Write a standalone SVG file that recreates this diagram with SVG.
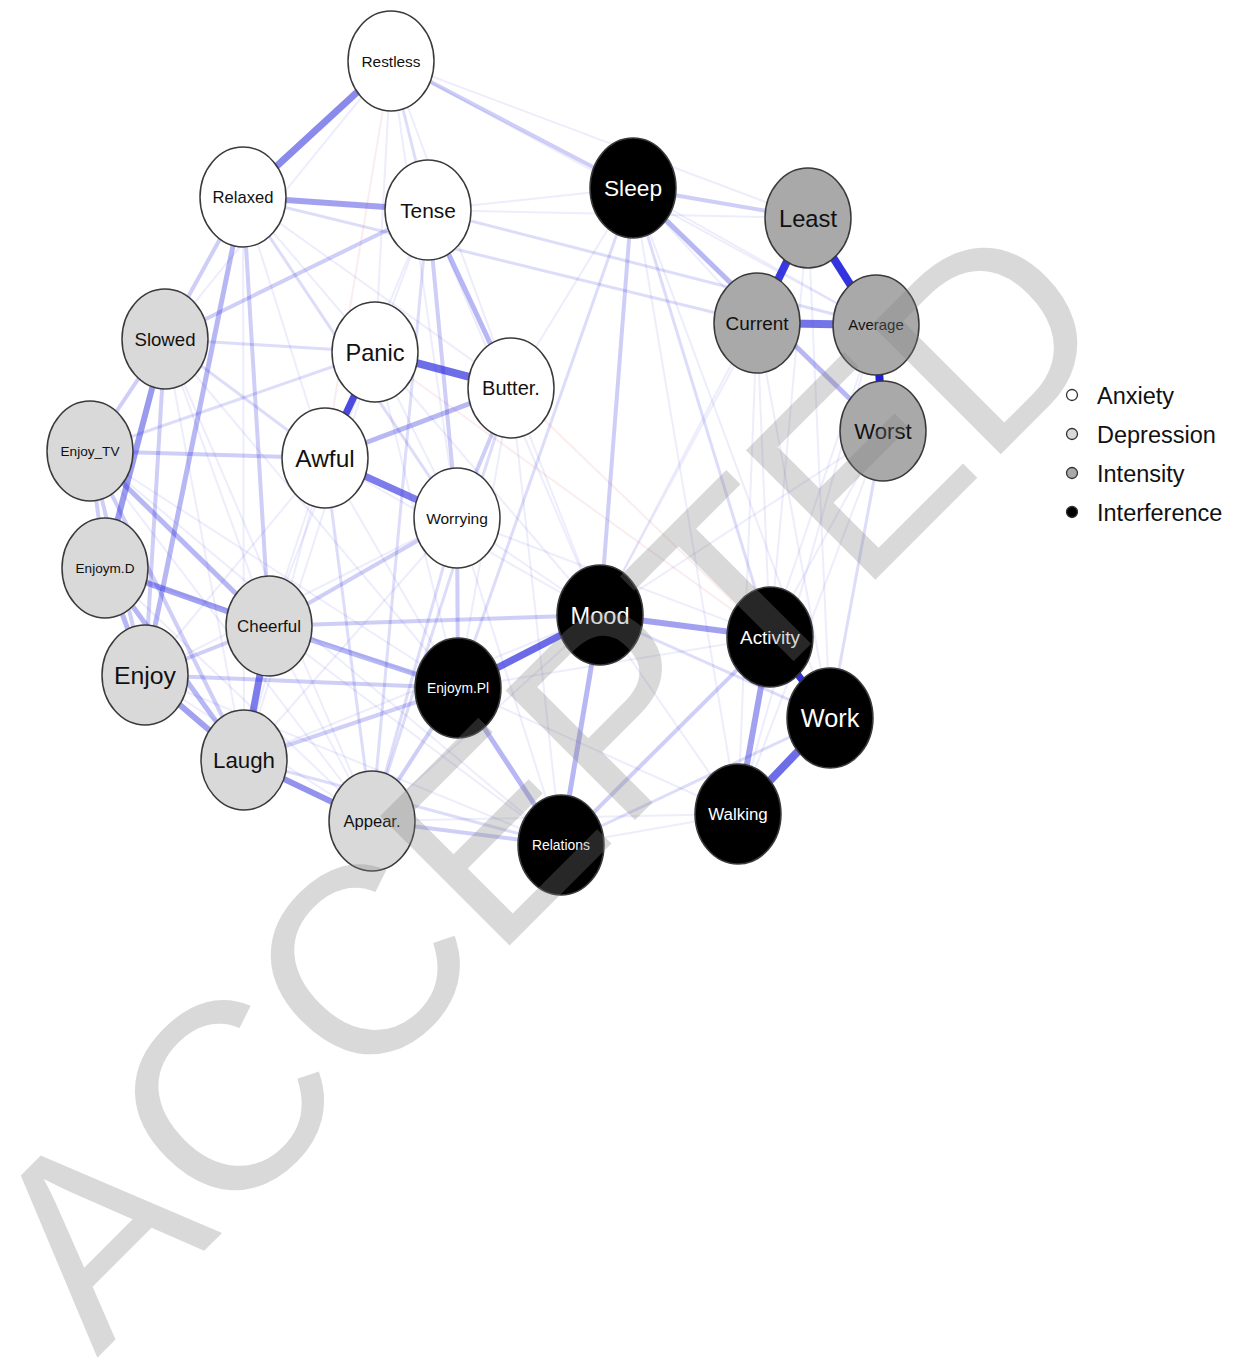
<svg xmlns="http://www.w3.org/2000/svg" width="1239" height="1362" viewBox="0 0 1239 1362">
<style>
text{font-family:"Liberation Sans",Arial,sans-serif;text-anchor:middle}
#edges line{stroke:#1e1edc;fill:none}
#edges .f1{stroke-width:2;stroke-opacity:.08}
#edges .f2{stroke-width:3;stroke-opacity:.15}
#edges .f3{stroke-width:4;stroke-opacity:.22}
#edges .f4{stroke-width:5;stroke-opacity:.32}
#edges .neg{stroke:#d84a4a;stroke-width:2;stroke-opacity:.1}
.nd ellipse{stroke:#3a3a3a;stroke-width:1.5}
.anx ellipse{fill:#ffffff}
.dep ellipse{fill:#d9d9d9}
.int ellipse{fill:#a9a9a9}
.itf ellipse{fill:#000000}
.anx text,.dep text,.int text{fill:#111}
.itf text{fill:#fff}
.leg text{text-anchor:start;font-size:23.5px;fill:#111}
.leg circle{stroke:#333;stroke-width:1.3}
</style>
<rect width="1239" height="1362" fill="#fff"/>
<g id="edges">
<g>
<line class="f1" x1="391" y1="61" x2="375" y2="352"/>
<line class="f1" x1="391" y1="61" x2="511" y2="388"/>
<line class="f1" x1="391" y1="61" x2="457" y2="518"/>
<line class="f1" x1="391" y1="61" x2="808" y2="218"/>
<line class="f1" x1="391" y1="61" x2="876" y2="325"/>
<line class="f1" x1="391" y1="61" x2="165" y2="339"/>
<line class="f1" x1="243" y1="197" x2="375" y2="352"/>
<line class="f1" x1="243" y1="197" x2="325" y2="458"/>
<line class="f1" x1="243" y1="197" x2="511" y2="388"/>
<line class="f1" x1="428" y1="210" x2="375" y2="352"/>
<line class="f1" x1="428" y1="210" x2="325" y2="458"/>
<line class="f1" x1="428" y1="210" x2="633" y2="188"/>
<line class="f1" x1="428" y1="210" x2="808" y2="218"/>
<line class="f1" x1="428" y1="210" x2="600" y2="615"/>
<line class="f1" x1="375" y1="352" x2="457" y2="518"/>
<line class="f1" x1="375" y1="352" x2="269" y2="626"/>
<line class="f1" x1="375" y1="352" x2="244" y2="760"/>
<line class="f1" x1="375" y1="352" x2="458" y2="688"/>
<line class="f1" x1="375" y1="352" x2="600" y2="615"/>
<line class="f1" x1="511" y1="388" x2="633" y2="188"/>
<line class="f1" x1="511" y1="388" x2="600" y2="615"/>
<line class="f1" x1="511" y1="388" x2="561" y2="845"/>
<line class="f1" x1="511" y1="388" x2="458" y2="688"/>
<line class="f1" x1="325" y1="458" x2="458" y2="688"/>
<line class="f1" x1="325" y1="458" x2="269" y2="626"/>
<line class="f1" x1="325" y1="458" x2="244" y2="760"/>
<line class="f1" x1="325" y1="458" x2="145" y2="675"/>
<line class="f1" x1="457" y1="518" x2="600" y2="615"/>
<line class="f1" x1="457" y1="518" x2="561" y2="845"/>
<line class="f1" x1="457" y1="518" x2="244" y2="760"/>
<line class="f1" x1="457" y1="518" x2="145" y2="675"/>
<line class="f1" x1="165" y1="339" x2="269" y2="626"/>
<line class="f1" x1="165" y1="339" x2="244" y2="760"/>
<line class="f1" x1="165" y1="339" x2="458" y2="688"/>
<line class="f1" x1="165" y1="339" x2="372" y2="821"/>
<line class="f1" x1="90" y1="451" x2="458" y2="688"/>
<line class="f1" x1="90" y1="451" x2="372" y2="821"/>
<line class="f1" x1="105" y1="568" x2="372" y2="821"/>
<line class="f1" x1="105" y1="568" x2="458" y2="688"/>
<line class="f1" x1="145" y1="675" x2="372" y2="821"/>
<line class="f1" x1="145" y1="675" x2="561" y2="845"/>
<line class="f1" x1="269" y1="626" x2="372" y2="821"/>
<line class="f1" x1="269" y1="626" x2="561" y2="845"/>
<line class="f1" x1="244" y1="760" x2="600" y2="615"/>
<line class="f1" x1="372" y1="821" x2="600" y2="615"/>
<line class="f1" x1="458" y1="688" x2="770" y2="637"/>
<line class="f1" x1="458" y1="688" x2="738" y2="814"/>
<line class="f1" x1="600" y1="615" x2="738" y2="814"/>
<line class="f1" x1="600" y1="615" x2="808" y2="218"/>
<line class="f1" x1="600" y1="615" x2="757" y2="323"/>
<line class="f1" x1="561" y1="845" x2="738" y2="814"/>
<line class="f1" x1="633" y1="188" x2="757" y2="323"/>
<line class="f1" x1="633" y1="188" x2="876" y2="325"/>
<line class="f1" x1="633" y1="188" x2="738" y2="814"/>
<line class="f1" x1="633" y1="188" x2="830" y2="718"/>
<line class="f1" x1="808" y1="218" x2="770" y2="637"/>
<line class="f1" x1="808" y1="218" x2="830" y2="718"/>
<line class="f1" x1="757" y1="323" x2="770" y2="637"/>
<line class="f1" x1="757" y1="323" x2="830" y2="718"/>
<line class="f1" x1="757" y1="323" x2="738" y2="814"/>
<line class="f1" x1="876" y1="325" x2="770" y2="637"/>
<line class="f1" x1="876" y1="325" x2="738" y2="814"/>
<line class="f1" x1="883" y1="431" x2="770" y2="637"/>
<line class="f1" x1="883" y1="431" x2="738" y2="814"/>
<line class="f1" x1="883" y1="431" x2="600" y2="615"/>
<line class="f1" x1="372" y1="821" x2="738" y2="814"/>
<line class="f1" x1="90" y1="451" x2="561" y2="845"/>
<line class="f1" x1="243" y1="197" x2="244" y2="760"/>
<line class="f1" x1="457" y1="518" x2="770" y2="637"/>
<line class="f1" x1="325" y1="458" x2="600" y2="615"/>
</g>
<g>
<line class="neg" x1="391" y1="61" x2="325" y2="458"/>
<line class="neg" x1="511" y1="388" x2="770" y2="637"/>
<line class="neg" x1="375" y1="352" x2="770" y2="637"/>
</g>
<g>
<line class="f2" x1="391" y1="61" x2="428" y2="210"/>
<line class="f2" x1="243" y1="197" x2="757" y2="323"/>
<line class="f2" x1="428" y1="210" x2="876" y2="325"/>
<line class="f2" x1="243" y1="197" x2="457" y2="518"/>
<line class="f2" x1="90" y1="451" x2="375" y2="352"/>
<line class="f2" x1="165" y1="339" x2="375" y2="352"/>
<line class="f2" x1="428" y1="210" x2="372" y2="821"/>
<line class="f2" x1="325" y1="458" x2="372" y2="821"/>
<line class="f2" x1="457" y1="518" x2="372" y2="821"/>
<line class="f2" x1="633" y1="188" x2="458" y2="688"/>
<line class="f2" x1="633" y1="188" x2="770" y2="637"/>
<line class="f2" x1="600" y1="615" x2="830" y2="718"/>
<line class="f2" x1="561" y1="845" x2="830" y2="718"/>
<line class="f2" x1="244" y1="760" x2="561" y2="845"/>
<line class="f2" x1="883" y1="431" x2="830" y2="718"/>
<line class="f2" x1="511" y1="388" x2="372" y2="821"/>
<line class="f2" x1="165" y1="339" x2="325" y2="458"/>
</g>
<g>
<line class="f3" x1="391" y1="61" x2="633" y2="188"/>
<line class="f3" x1="633" y1="188" x2="808" y2="218"/>
<line class="f3" x1="633" y1="188" x2="600" y2="615"/>
<line class="f3" x1="428" y1="210" x2="165" y2="339"/>
<line class="f3" x1="243" y1="197" x2="165" y2="339"/>
<line class="f3" x1="269" y1="626" x2="600" y2="615"/>
<line class="f3" x1="145" y1="675" x2="458" y2="688"/>
<line class="f3" x1="244" y1="760" x2="458" y2="688"/>
<line class="f3" x1="90" y1="451" x2="325" y2="458"/>
<line class="f3" x1="428" y1="210" x2="457" y2="518"/>
<line class="f3" x1="511" y1="388" x2="457" y2="518"/>
<line class="f3" x1="457" y1="518" x2="458" y2="688"/>
<line class="f3" x1="372" y1="821" x2="561" y2="845"/>
<line class="f3" x1="372" y1="821" x2="458" y2="688"/>
<line class="f3" x1="561" y1="845" x2="770" y2="637"/>
<line class="f3" x1="243" y1="197" x2="269" y2="626"/>
<line class="f3" x1="90" y1="451" x2="105" y2="568"/>
<line class="f3" x1="90" y1="451" x2="145" y2="675"/>
<line class="f3" x1="165" y1="339" x2="90" y2="451"/>
<line class="f3" x1="145" y1="675" x2="269" y2="626"/>
<line class="f3" x1="269" y1="626" x2="457" y2="518"/>
<line class="f3" x1="165" y1="339" x2="145" y2="675"/>
<line class="f3" x1="90" y1="451" x2="244" y2="760"/>
</g>
<g>
<line class="f4" x1="428" y1="210" x2="511" y2="388"/>
<line class="f4" x1="633" y1="188" x2="883" y2="431"/>
<line class="f4" x1="600" y1="615" x2="561" y2="845"/>
<line class="f4" x1="458" y1="688" x2="561" y2="845"/>
<line class="f4" x1="269" y1="626" x2="458" y2="688"/>
<line class="f4" x1="90" y1="451" x2="269" y2="626"/>
<line class="f4" x1="511" y1="388" x2="325" y2="458"/>
<line class="f4" x1="243" y1="197" x2="145" y2="675"/>
<line class="f4" x1="105" y1="568" x2="145" y2="675"/>
<line class="f4" x1="105" y1="568" x2="244" y2="760"/>
</g>
<g>
<line x1="105" y1="568" x2="269" y2="626" stroke-width="6" stroke-opacity=".42"/>
<line x1="145" y1="675" x2="244" y2="760" stroke-width="6" stroke-opacity=".42"/>
<line x1="165" y1="339" x2="105" y2="568" stroke-width="6" stroke-opacity=".45"/>
<line x1="243" y1="197" x2="428" y2="210" stroke-width="6" stroke-opacity=".42"/>
<line x1="244" y1="760" x2="372" y2="821" stroke-width="6" stroke-opacity=".48"/>
<line x1="600" y1="615" x2="770" y2="637" stroke-width="6" stroke-opacity=".42"/>
<line x1="770" y1="637" x2="738" y2="814" stroke-width="6" stroke-opacity=".42"/>
<line x1="391" y1="61" x2="243" y2="197" stroke-width="7" stroke-opacity=".52"/>
<line x1="325" y1="458" x2="457" y2="518" stroke-width="7" stroke-opacity=".58"/>
<line x1="269" y1="626" x2="244" y2="760" stroke-width="7" stroke-opacity=".58"/>
<line x1="757" y1="323" x2="876" y2="325" stroke-width="8" stroke-opacity=".62"/>
<line x1="375" y1="352" x2="511" y2="388" stroke-width="8" stroke-opacity=".65"/>
<line x1="458" y1="688" x2="600" y2="615" stroke-width="7" stroke-opacity=".66"/>
<line x1="738" y1="814" x2="830" y2="718" stroke-width="8" stroke-opacity=".65"/>
<line x1="375" y1="352" x2="325" y2="458" stroke-width="7" stroke-opacity=".8"/>
<line x1="808" y1="218" x2="757" y2="323" stroke-width="8" stroke-opacity=".88"/>
<line x1="808" y1="218" x2="876" y2="325" stroke-width="8" stroke-opacity=".9"/>
<line x1="770" y1="637" x2="830" y2="718" stroke-width="7" stroke-opacity=".92"/>
<line x1="876" y1="325" x2="883" y2="431" stroke-width="8" stroke-opacity="1"/>
</g>
</g>
<g id="nodes">
<g id="n-restless" class="nd anx"><ellipse cx="391" cy="61" rx="43" ry="50"/><text x="391" y="66.5" font-size="15.4">Restless</text></g>
<g id="n-relaxed" class="nd anx"><ellipse cx="243" cy="197" rx="43" ry="50"/><text x="243" y="203" font-size="16.6">Relaxed</text></g>
<g id="n-tense" class="nd anx"><ellipse cx="428" cy="210" rx="43" ry="50"/><text x="428" y="217.5" font-size="20.9">Tense</text></g>
<g id="n-panic" class="nd anx"><ellipse cx="375" cy="352" rx="43" ry="50"/><text x="375" y="360.5" font-size="23.6">Panic</text></g>
<g id="n-butter" class="nd anx"><ellipse cx="511" cy="388" rx="43" ry="50"/><text x="511" y="395.2" font-size="20">Butter.</text></g>
<g id="n-awful" class="nd anx"><ellipse cx="325" cy="458" rx="43" ry="50"/><text x="325" y="466.8" font-size="24.5">Awful</text></g>
<g id="n-worrying" class="nd anx"><ellipse cx="457" cy="518" rx="43" ry="50"/><text x="457" y="523.6" font-size="15.5">Worrying</text></g>
<g id="n-slowed" class="nd dep"><ellipse cx="165" cy="339" rx="43" ry="50"/><text x="165" y="345.7" font-size="18.6">Slowed</text></g>
<g id="n-enjoytv" class="nd dep"><ellipse cx="90" cy="451" rx="43" ry="50"/><text x="90" y="455.9" font-size="13.6">Enjoy_TV</text></g>
<g id="n-enjoymd" class="nd dep"><ellipse cx="105" cy="568" rx="43" ry="50"/><text x="105" y="572.9" font-size="13.6">Enjoym.D</text></g>
<g id="n-cheerful" class="nd dep"><ellipse cx="269" cy="626" rx="43" ry="50"/><text x="269" y="632.1" font-size="16.9">Cheerful</text></g>
<g id="n-enjoy" class="nd dep"><ellipse cx="145" cy="675" rx="43" ry="50"/><text x="145" y="683.9" font-size="24.8">Enjoy</text></g>
<g id="n-laugh" class="nd dep"><ellipse cx="244" cy="760" rx="43" ry="50"/><text x="244" y="768" font-size="22.3">Laugh</text></g>
<g id="n-appear" class="nd dep"><ellipse cx="372" cy="821" rx="43" ry="50"/><text x="372" y="827" font-size="16.6">Appear.</text></g>
<g id="n-least" class="nd int"><ellipse cx="808" cy="218" rx="43" ry="50"/><text x="808" y="226.5" font-size="23.7">Least</text></g>
<g id="n-current" class="nd int"><ellipse cx="757" cy="323" rx="43" ry="50"/><text x="757" y="329.8" font-size="18.9">Current</text></g>
<g id="n-average" class="nd int"><ellipse cx="876" cy="325" rx="43" ry="50"/><text x="876" y="330.4" font-size="15">Average</text></g>
<g id="n-worst" class="nd int"><ellipse cx="883" cy="431" rx="43" ry="50"/><text x="883" y="439" font-size="22.2">Worst</text></g>
<g id="n-sleep" class="nd itf"><ellipse cx="633" cy="188" rx="43" ry="50"/><text x="633" y="196.2" font-size="22.7">Sleep</text></g>
<g id="n-mood" class="nd itf"><ellipse cx="600" cy="615" rx="43" ry="50"/><text x="600" y="623.5" font-size="23.6">Mood</text></g>
<g id="n-activity" class="nd itf"><ellipse cx="770" cy="637" rx="43" ry="50"/><text x="770" y="643.8" font-size="18.9">Activity</text></g>
<g id="n-work" class="nd itf"><ellipse cx="830" cy="718" rx="43" ry="50"/><text x="830" y="727.1" font-size="25.3">Work</text></g>
<g id="n-enjoympl" class="nd itf"><ellipse cx="458" cy="688" rx="43" ry="50"/><text x="458" y="693" font-size="13.8">Enjoym.Pl</text></g>
<g id="n-walking" class="nd itf"><ellipse cx="738" cy="814" rx="43" ry="50"/><text x="738" y="820.1" font-size="16.9">Walking</text></g>
<g id="n-relations" class="nd itf"><ellipse cx="561" cy="845" rx="43" ry="50"/><text x="561" y="850" font-size="13.9">Relations</text></g>
</g>
<g id="legend" class="leg">
<circle cx="1072" cy="395" r="5.5" fill="#fff"/>
<circle cx="1072" cy="434" r="5.5" fill="#d9d9d9"/>
<circle cx="1072" cy="473" r="5.5" fill="#a9a9a9"/>
<circle cx="1072" cy="512" r="5.5" fill="#000"/>
<text x="1097" y="404">Anxiety</text>
<text x="1097" y="443">Depression</text>
<text x="1097" y="482">Intensity</text>
<text x="1097" y="521">Interference</text>
</g>
<g id="watermark">
<text transform="translate(97,1358) rotate(-45)" x="0" y="0" font-size="266" fill="#808080" fill-opacity="0.3" style="text-anchor:start">ACCEPTED</text>
</g>
</svg>
